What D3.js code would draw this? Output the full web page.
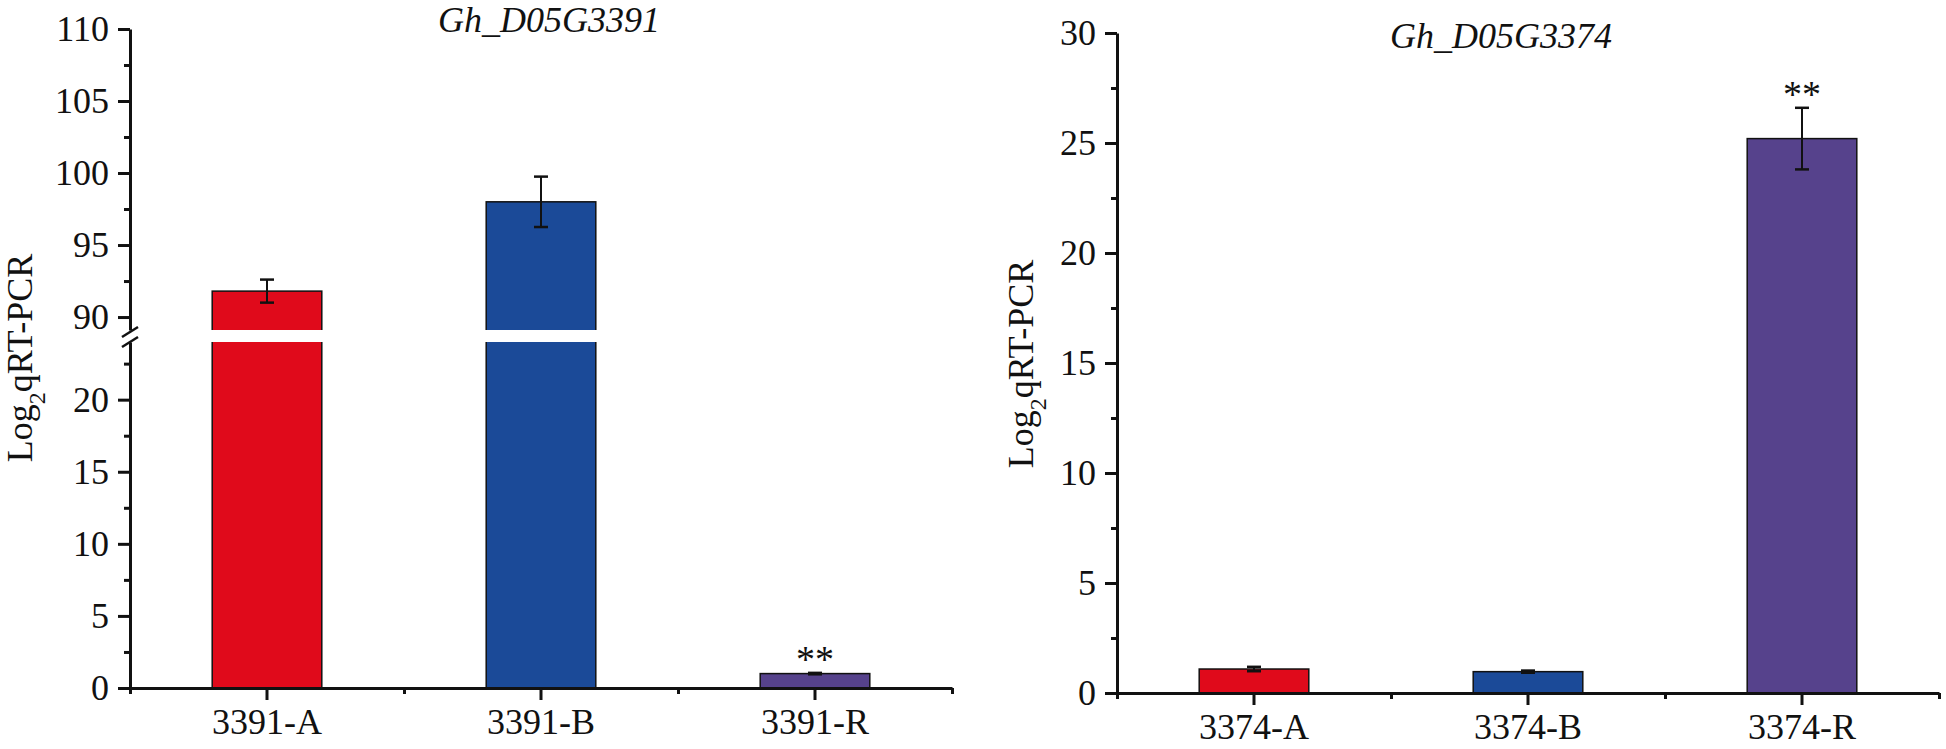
<!DOCTYPE html>
<html>
<head>
<meta charset="utf-8">
<script src="https://cdn.jsdelivr.net/npm/d3@7"></script>
<style>
  body { margin: 0; background: #fff; }
  svg { display: block; }
  text { font-family: "Liberation Serif", "DejaVu Serif", serif; fill: #111; }
</style>
</head>
<body>
<svg id="chart" width="1946" height="749"></svg>
<script>
// data
const leftCats = ["3391-A", "3391-B", "3391-R"];
const leftVals = [91.8, 98.0, 1.0];
const leftErr = [0.8, 1.75, 0.05];
const leftSig = ["", "", "**"];
const leftTitle = "Gh_D05G3391";

const rightCats = ["3374-A", "3374-B", "3374-R"];
const rightVals = [1.09, 0.97, 25.2];
const rightErr = [0.1, 0.05, 1.4];
const rightSig = ["", "", "**"];
const rightTitle = "Gh_D05G3374";

const barColors = ["#E00A1B", "#1B4A98", "#56428C"];

const leftUpperTicks = [90, 95, 100, 105, 110];
const leftUpperMinor = [92.5, 97.5, 102.5, 107.5];
const leftLowerTicks = [0, 5, 10, 15, 20];
const leftLowerMinor = [2.5, 7.5, 12.5, 17.5, 22.5];
const rightTicks = [0, 5, 10, 15, 20, 25, 30];
const rightMinor = [2.5, 7.5, 12.5, 17.5, 22.5, 27.5];

const serif = '"Liberation Serif", "DejaVu Serif", serif';
const svg = d3.select("#chart");

function styleAxis(g) {
  g.attr("font-family", serif);
  g.select(".domain").attr("stroke", "#111").attr("stroke-width", 3);
  g.selectAll(".tick line").attr("stroke", "#111").attr("stroke-width", 3);
  g.selectAll(".tick text").attr("font-family", serif).style("font-family", serif).attr("fill", "#111");
}

function yLabel(cx, cy) {
  const t = svg.append("text")
    .attr("transform", `translate(${cx},${cy}) rotate(-90)`)
    .attr("text-anchor", "middle")
    .style("font-family", serif)
    .style("font-size", "36px");
  t.append("tspan").text("Log");
  t.append("tspan").text("2").attr("baseline-shift", "sub").style("font-size", "24px");
  t.append("tspan").text("qRT-PCR");
}

function xAxisBlock(x, x0, x1, y0, cats) {
  // major ticks at categories
  svg.append("g")
    .attr("transform", `translate(0,${y0})`)
    .call(d3.axisBottom(x).tickSize(12).tickSizeOuter(0).tickPadding(8))
    .call(g => {
      styleAxis(g);
      g.selectAll(".tick text").style("font-size", "36px");
    });
  // minor ticks at boundaries
  const b = d3.scaleLinear().domain([0, cats.length]).range([x0, x1]);
  svg.append("g")
    .attr("transform", `translate(0,${y0})`)
    .call(d3.axisBottom(b).tickValues(d3.range(cats.length + 1)).tickSize(6).tickFormat(""))
    .call(g => { styleAxis(g); g.select(".domain").remove(); });
}

function errBars(x, y, cats, vals, errs, sig) {
  const cap = 7;
  const g = svg.append("g");
  cats.forEach((c, i) => {
    const cx = x(c) + x.bandwidth() / 2;
    const yt = y(vals[i] + errs[i]), yb = y(vals[i] - errs[i]);
    g.append("line").attr("x1", cx).attr("x2", cx).attr("y1", yt).attr("y2", yb)
      .attr("stroke", "#111").attr("stroke-width", 2);
    [yt, yb].forEach(yy => g.append("line")
      .attr("x1", cx - cap).attr("x2", cx + cap).attr("y1", yy).attr("y2", yy)
      .attr("stroke", "#111").attr("stroke-width", 2.5));
    if (sig[i]) {
      g.append("text").attr("x", cx).attr("y", yt - 1)
        .attr("text-anchor", "middle").style("font-family", serif)
        .style("font-size", "38px").text(sig[i]);
    }
  });
}

// ---------- left panel (broken y axis) ----------
{
  const x0 = 130, x1 = 952, y0 = 688;
  const x = d3.scaleBand().domain(leftCats).range([x0, x1])
    .paddingInner(0.6).paddingOuter(0.3);
  const yUp = d3.scaleLinear().domain([89.1, 110]).range([330, 29]);
  const yLo = d3.scaleLinear().domain([0, 24]).range([y0, 342]);
  const breakTop = yUp.range()[0], breakBot = yLo.range()[1];

  // bars
  leftVals.forEach((v, i) => {
    const c = leftCats[i];
    const top = v > yUp.domain()[0] ? yUp(v) : yLo(v);
    svg.append("rect")
      .attr("x", x(c)).attr("width", x.bandwidth())
      .attr("y", top).attr("height", y0 - top)
      .attr("fill", barColors[i]).attr("stroke", "#111").attr("stroke-width", 1.5);
    if (v > yUp.domain()[0]) {
      svg.append("rect")
        .attr("x", x(c) - 3).attr("width", x.bandwidth() + 6)
        .attr("y", breakTop).attr("height", breakBot - breakTop)
        .attr("fill", "#fff");
    }
  });

  // error bars split by segment
  const upIdx = leftVals.map(v => v > yUp.domain()[0]);
  errBars(x, yUp, leftCats.filter((c, i) => upIdx[i]), leftVals.filter((v, i) => upIdx[i]),
    leftErr.filter((v, i) => upIdx[i]), leftSig.filter((v, i) => upIdx[i]));
  errBars(x, yLo, leftCats.filter((c, i) => !upIdx[i]), leftVals.filter((v, i) => !upIdx[i]),
    leftErr.filter((v, i) => !upIdx[i]), leftSig.filter((v, i) => !upIdx[i]));

  // y axes
  [[yUp, leftUpperTicks, leftUpperMinor], [yLo, leftLowerTicks, leftLowerMinor]].forEach(([s, t, m]) => {
    svg.append("g").attr("transform", `translate(${x0},0)`)
      .call(d3.axisLeft(s).tickValues(t).tickSize(12).tickSizeOuter(0).tickPadding(9))
      .call(g => { styleAxis(g); g.selectAll(".tick text").style("font-size", "36px"); });
    svg.append("g").attr("transform", `translate(${x0},0)`)
      .call(d3.axisLeft(s).tickValues(m).tickSize(6).tickFormat(""))
      .call(g => { styleAxis(g); g.select(".domain").remove(); });
  });

  // break marks
  [breakTop + 2, breakBot].forEach(yy => {
    svg.append("line")
      .attr("x1", x0 - 8).attr("y1", yy + 5).attr("x2", x0 + 8).attr("y2", yy - 5)
      .attr("stroke", "#111").attr("stroke-width", 2.5);
  });

  xAxisBlock(x, x0, x1, y0, leftCats);
  yLabel(32, 358);

  svg.append("text").attr("x", 549).attr("y", 32).attr("text-anchor", "middle")
    .style("font-family", serif)
    .style("font-size", "36px").style("font-style", "italic").text(leftTitle);
}

// ---------- right panel ----------
{
  const x0 = 1117, x1 = 1939, y0 = 693;
  const x = d3.scaleBand().domain(rightCats).range([x0, x1])
    .paddingInner(0.6).paddingOuter(0.3);
  const y = d3.scaleLinear().domain([0, 30]).range([y0, 33]);

  svg.append("g").selectAll("rect")
    .data(rightVals)
    .join("rect")
    .attr("x", (d, i) => x(rightCats[i]))
    .attr("width", x.bandwidth())
    .attr("y", d => y(d))
    .attr("height", d => y0 - y(d))
    .attr("fill", (d, i) => barColors[i])
    .attr("stroke", "#111").attr("stroke-width", 1.5);

  errBars(x, y, rightCats, rightVals, rightErr, rightSig);

  svg.append("g").attr("transform", `translate(${x0},0)`)
    .call(d3.axisLeft(y).tickValues(rightTicks).tickSize(12).tickSizeOuter(0).tickPadding(9))
    .call(g => { styleAxis(g); g.selectAll(".tick text").style("font-size", "36px"); });
  svg.append("g").attr("transform", `translate(${x0},0)`)
    .call(d3.axisLeft(y).tickValues(rightMinor).tickSize(6).tickFormat(""))
    .call(g => { styleAxis(g); g.select(".domain").remove(); });

  xAxisBlock(x, x0, x1, y0, rightCats);
  yLabel(1033, 364);

  svg.append("text").attr("x", 1501).attr("y", 48).attr("text-anchor", "middle")
    .style("font-family", serif)
    .style("font-size", "36px").style("font-style", "italic").text(rightTitle);
}
</script>
</body>
</html>
